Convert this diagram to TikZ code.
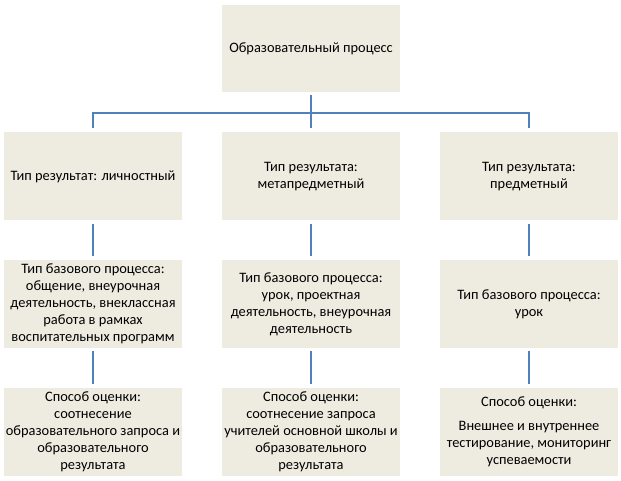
\documentclass[tikz,border=0pt]{standalone}
\usepackage{fontspec}
\setmainfont{Carlito}
\definecolor{boxfill}{HTML}{EEECE1}
\definecolor{linec}{HTML}{4F81BD}
\begin{document}
\begin{tikzpicture}[x=1pt,y=1pt,
  box/.style={fill=boxfill, draw=none, minimum width=178pt, minimum height=88pt, inner sep=0pt,
    align=center, font=\fontsize{14.4}{17}\selectfont},
  conn/.style={draw=linec, line width=2.6pt, shorten <=3pt, shorten >=4pt}]
\useasboundingbox (0,0) rectangle (621,-481);
\node[box, minimum height=87pt] (top) at (311,-48.5) {Образовательный процесс};
\node[box] (a1) at (93,-176.5) {Тип результат: личностный};
\node[box] (a2) at (311,-176.5) {Тип результата:\\метапредметный};
\node[box] (a3) at (529,-176.5) {Тип результата:\\предметный};
\node[box] (b1) at (93,-304) {Тип базового процесса:\\общение,  внеурочная\\деятельность, внеклассная\\работа в рамках\\воспитательных программ};
\node[box] (b2) at (311,-304) {Тип базового процесса:\\урок, проектная\\деятельность, внеурочная\\деятельность};
\node[box] (b3) at (529,-304) {Тип базового процесса:\\урок};
\node[box] (c1) at (93,-432) {Способ оценки:\\соотнесение\\образовательного запроса и\\образовательного\\результата};
\node[box] (c2) at (311,-432) {Способ оценки:\\соотнесение запроса\\учителей основной школы и\\образовательного\\результата};
\node[box] (c3) at (529,-432) {Способ оценки:\\[7pt]Внешнее и внутреннее\\тестирование, мониторинг\\успеваемости};
\coordinate (bar) at (311,-113);
\draw[conn] (top.south) -- (top.south |- bar) -| (a1.north);
\draw[conn] (top.south) -- (top.south |- bar) -| (a3.north);
\draw[conn] (top.south) -- (a2.north);
\draw[conn] (a1) -- (b1); \draw[conn] (a2) -- (b2); \draw[conn] (a3) -- (b3);
\draw[conn] (b1) -- (c1); \draw[conn] (b2) -- (c2); \draw[conn] (b3) -- (c3);
\end{tikzpicture}
\end{document}
